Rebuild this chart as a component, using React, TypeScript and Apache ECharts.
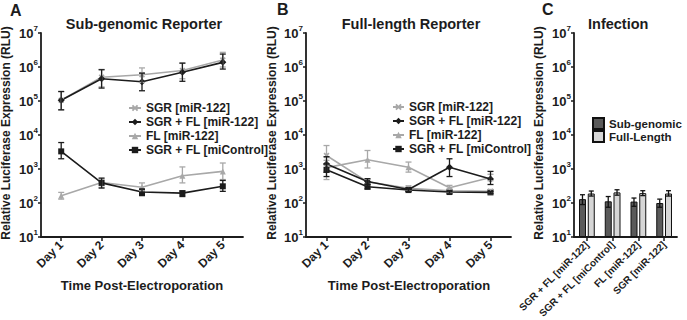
import React, { useEffect, useRef } from "react";
import * as echarts from "echarts";

const days = ["Day 1", "Day 2", "Day 3", "Day 4", "Day 5"];
const seriesNames = ["SGR [miR-122]", "SGR + FL [miR-122]", "FL [miR-122]", "SGR + FL [miControl]"];

// Panel A (Sub-genomic Reporter)
const aSGR = [105000, 500000, 590000, 790000, 1600000];
const aSGRLo = [55000, 260000, 350000, 450000, 1000000];
const aSGRHi = [190000, 850000, 940000, 1300000, 2700000];
const aSGRFL = [105000, 450000, 370000, 700000, 1370000];
const aSGRFLLo = [55000, 240000, 200000, 380000, 870000];
const aSGRFLHi = [190000, 830000, 660000, 1300000, 2400000];
const aFL = [163, 400, 290, 630, 850];
const aFLLo = [130, 290, 230, 390, 490];
const aFLHi = [205, 500, 390, 1150, 1500];
const aCtl = [3300, 390, 210, 195, 310];
const aCtlLo = [2000, 275, 165, 155, 220];
const aCtlHi = [6000, 540, 260, 225, 460];

// Panel B (Full-length Reporter)
const bSGR = [2500, 420, 270, 230, 220];
const bSGRLo = [1300, 350, 230, 200, 190];
const bSGRHi = [4900, 500, 320, 260, 250];
const bSGRFL = [1400, 430, 250, 1120, 510];
const bSGRFLLo = [800, 360, 220, 600, 350];
const bSGRFLHi = [2300, 520, 280, 2000, 850];
const bFL = [1100, 1860, 1120, 280, 560];
const bFLLo = [490, 1070, 810, 240, 450];
const bFLHi = [1800, 3500, 1600, 330, 700];
const bCtl = [950, 300, 240, 210, 205];
const bCtlLo = [600, 260, 220, 195, 190];
const bCtlHi = [1400, 350, 265, 230, 220];

// Panel C (Infection)
const cCats = ["SGR + FL [miR-122]", "SGR + FL [miControl]", "FL [miR-122]", "SGR [miR-122]"];
const cSub = [130, 112, 110, 100];
const cSubLo = [90, 75, 80, 75];
const cSubHi = [175, 155, 140, 130];
const cFull = [190, 205, 195, 190];
const cFullLo = [160, 170, 165, 160];
const cFullHi = [225, 245, 230, 230];

const FONT = "'Liberation Sans', Arial, Helvetica, sans-serif";
const DARK = "#1c1c1c";
const LIGHT = "#a8a8a8";
const XSYM = "path://M2,0 L5,3 L8,0 L10,2 L7,5 L10,8 L8,10 L5,7 L2,10 L0,8 L3,5 L0,2 Z";

const errRender = (offset: number, cap: number) => (params: any, api: any) => {
  const x = api.value(0);
  const p1 = api.coord([x, api.value(1)]);
  const p2 = api.coord([x, api.value(2)]);
  const cx = p1[0] + offset;
  const style = { stroke: api.visual("color"), lineWidth: 1.3 };
  return {
    type: "group",
    children: [
      { type: "line", shape: { x1: cx, y1: p1[1], x2: cx, y2: p2[1] }, style },
      { type: "line", shape: { x1: cx - cap, y1: p1[1], x2: cx + cap, y2: p1[1] }, style },
      { type: "line", shape: { x1: cx - cap, y1: p2[1], x2: cx + cap, y2: p2[1] }, style },
    ],
  };
};

const errData = (lo: number[], hi: number[]) => lo.map((l, i) => [i, l, hi[i]]);

const yAxisCommon = (gridIndex: number) => ({
  type: "log",
  gridIndex,
  logBase: 10,
  min: 10,
  max: 10000000,
  splitNumber: 6,
  startValue: 10,
  axisLine: { show: true, lineStyle: { color: DARK, width: 1.8 } },
  axisTick: { show: true, length: 3, lineStyle: { color: DARK, width: 1.5 } },
  splitLine: { show: false },
  minorTick: { show: false },
  axisLabel: {
    margin: 3,
    formatter: (v: number) => `{b|10}{s|${Math.round(Math.log10(v))}}`,
    rich: {
      b: { fontSize: 13, fontWeight: "bold", fontFamily: FONT, color: DARK },
      s: { fontSize: 8, fontWeight: "bold", fontFamily: FONT, color: DARK, padding: [0, 0, 9, 0] },
    },
  },
});

const xAxisCommon = (gridIndex: number, data: string[], fontSize: number) => ({
  type: "category",
  gridIndex,
  data,
  boundaryGap: true,
  axisLine: { show: true, lineStyle: { color: DARK, width: 1.8 } },
  axisTick: { show: true, alignWithLabel: true, length: 4, lineStyle: { color: DARK, width: 1.5 } },
  axisLabel: { rotate: 45, fontSize, fontWeight: "bold", fontFamily: FONT, color: DARK, margin: 6, interval: 0 },
  splitLine: { show: false },
});

const lineSeries = (name: string, data: number[], idx: number, color: string, symbol: string, size: number) => ({
  type: "line",
  name,
  data,
  xAxisIndex: idx,
  yAxisIndex: idx,
  symbol,
  symbolSize: size,
  itemStyle: { color },
  lineStyle: { color, width: 1.6 },
  z: 3,
});

const errSeries = (lo: number[], hi: number[], idx: number, color: string, offset = 0, cap = 3) => ({
  type: "custom",
  name: "err",
  xAxisIndex: idx,
  yAxisIndex: idx,
  data: errData(lo, hi),
  encode: { x: 0, y: [1, 2] },
  renderItem: errRender(offset, cap),
  itemStyle: { color },
  silent: true,
  z: 4,
});

const titleText = (text: string, x: number, y: number, size: number, align = "center") => ({
  type: "text",
  x,
  y,
  style: { text, fontSize: size, fontWeight: "bold", fontFamily: FONT, fill: DARK, align, verticalAlign: "middle" },
});

const yTitle = (x: number) => ({
  type: "text",
  x,
  y: 133,
  rotation: Math.PI / 2,
  style: {
    text: "Relative Luciferase Expression (RLU)",
    fontSize: 12,
    fontWeight: "bold",
    fontFamily: FONT,
    fill: DARK,
    align: "center",
    verticalAlign: "middle",
  },
});

export default function App() {
  const ref = useRef<HTMLDivElement>(null);
  useEffect(() => {
    if (!ref.current) return;
    const chart = echarts.init(ref.current, undefined, { renderer: "svg" });
    const legendText = { fontSize: 12, fontWeight: "bold", fontFamily: FONT, color: DARK, lineHeight: 14 };
    chart.setOption({
      animation: false,
      backgroundColor: "#ffffff",
      grid: [
        { left: 41, top: 33, width: 202, height: 204, outerBoundsMode: "none" },
        { left: 306, top: 33, width: 205, height: 204, outerBoundsMode: "none" },
        { left: 574, top: 33, width: 103, height: 204, outerBoundsMode: "none" },
      ],
      xAxis: [xAxisCommon(0, days, 12), xAxisCommon(1, days, 12), xAxisCommon(2, cCats, 10)],
      yAxis: [yAxisCommon(0), yAxisCommon(1), yAxisCommon(2)],
      legend: [
        {
          data: seriesNames,
          orient: "vertical",
          left: 128,
          top: 101,
          padding: 0,
          itemWidth: 12,
          itemHeight: 8,
          itemGap: 0,
          textStyle: legendText,
          selectedMode: false,
        },
        {
          data: seriesNames,
          orient: "vertical",
          left: 392,
          top: 100,
          padding: 0,
          itemWidth: 11,
          itemHeight: 8,
          itemGap: 0,
          textStyle: legendText,
          selectedMode: false,
        },
        {
          data: ["Sub-genomic", "Full-Length"],
          orient: "vertical",
          left: 592,
          top: 117,
          padding: 0,
          itemWidth: 11,
          itemHeight: 11,
          itemGap: 0,
          icon: "rect",
          textStyle: { ...legendText, fontSize: 11.5, lineHeight: 12.5 },
          selectedMode: false,
        },
      ],
      graphic: [
        titleText("A", 10, 10, 16, "left"),
        titleText("B", 277, 9, 16, "left"),
        titleText("C", 542, 9, 16, "left"),
        titleText("Sub-genomic Reporter", 144, 24, 14.5),
        titleText("Full-length Reporter", 411, 24, 14.5),
        titleText("Infection", 588, 24, 14.5, "left"),
        titleText("Time Post-Electroporation", 142, 285, 13),
        titleText("Time Post-Electroporation", 409, 285, 13),
        yTitle(6),
        yTitle(272),
        yTitle(539),
      ],
      series: [
        errSeries(aSGRLo, aSGRHi, 0, LIGHT),
        errSeries(aFLLo, aFLHi, 0, LIGHT),
        errSeries(aSGRFLLo, aSGRFLHi, 0, DARK),
        errSeries(aCtlLo, aCtlHi, 0, DARK),
        lineSeries(seriesNames[0], aSGR, 0, LIGHT, XSYM, 6),
        lineSeries(seriesNames[2], aFL, 0, LIGHT, "triangle", 6),
        lineSeries(seriesNames[1], aSGRFL, 0, DARK, "diamond", 7),
        lineSeries(seriesNames[3], aCtl, 0, DARK, "rect", 6),

        errSeries(bSGRLo, bSGRHi, 1, LIGHT),
        errSeries(bFLLo, bFLHi, 1, LIGHT),
        errSeries(bSGRFLLo, bSGRFLHi, 1, DARK),
        errSeries(bCtlLo, bCtlHi, 1, DARK),
        lineSeries(seriesNames[0], bSGR, 1, LIGHT, XSYM, 6),
        lineSeries(seriesNames[2], bFL, 1, LIGHT, "triangle", 6),
        lineSeries(seriesNames[1], bSGRFL, 1, DARK, "diamond", 7),
        lineSeries(seriesNames[3], bCtl, 1, DARK, "rect", 6),

        {
          type: "bar",
          name: "Sub-genomic",
          data: cSub,
          xAxisIndex: 2,
          yAxisIndex: 2,
          barWidth: 7,
          barGap: "25%",
          itemStyle: { color: "#5a5a5a", borderColor: "#111", borderWidth: 1 },
        },
        {
          type: "bar",
          name: "Full-Length",
          data: cFull,
          xAxisIndex: 2,
          yAxisIndex: 2,
          barWidth: 7,
          barGap: "25%",
          itemStyle: { color: "#d6d6d6", borderColor: "#111", borderWidth: 1 },
        },
        errSeries(cSubLo, cSubHi, 2, "#111", -4.4, 2.5),
        errSeries(cFullLo, cFullHi, 2, "#111", 4.4, 2.5),
      ],
    });
    return () => chart.dispose();
  }, []);
  return <div ref={ref} style={{ position: "fixed", left: 0, top: 0, width: 687, height: 320 }} />;
}
